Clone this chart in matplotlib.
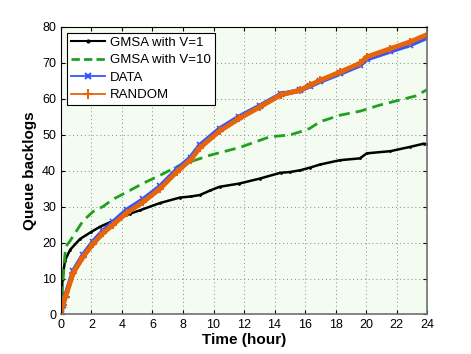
import matplotlib
matplotlib.use("Agg")
import matplotlib.pyplot as plt
from matplotlib.lines import Line2D

plt.rcParams['font.family'] = ['Liberation Sans', 'DejaVu Sans']

# GMSA with V=1
t_v1 = [0, 0.1, 0.26, 0.6, 1.25, 2.0, 2.56, 3.2, 3.87, 4.5, 5.2, 6.5, 7.8, 8.5, 9.1,
        9.8, 10.4, 11.7, 13.05, 14.4, 15.0, 15.7, 16.3, 17.0, 18.3, 19.6, 20.05,
        21.6, 22.9, 23.8, 24]
q_v1 = [0, 10, 15, 18, 21, 23, 24.4, 25.6, 26.8, 28, 29, 31, 32.5, 32.8, 33.2,
        34.5, 35.5, 36.4, 37.8, 39.4, 39.6, 40.1, 40.8, 41.7, 42.9, 43.4, 44.8,
        45.4, 46.6, 47.5, 47.3]

# GMSA with V=10
t_v10 = [0, 0.1, 0.3, 0.6, 0.92, 1.44, 2.1, 2.75, 3.4, 4.3, 5.4, 6.5, 7.1, 7.8,
         9.8, 11.7, 13.7, 15.0, 15.7, 16.3, 17.0, 18.3, 19.6, 20.9, 22.2, 23.3, 24]
q_v10 = [0, 8, 18.8, 20.5, 22.6, 26, 28.6, 30, 32, 34, 36.5, 38.7, 40, 41.5,
         44.3, 46.4, 49.4, 49.9, 50.8, 51.7, 53.6, 55.4, 56.5, 58.2, 59.6, 60.8, 62.5]

# DATA and RANDOM share time points
t_dr = [0, 0.1, 0.3, 0.8, 1.44, 2.1, 2.75, 3.4, 4.3, 5.4, 6.5, 7.6, 8.5, 9.1,
        10.4, 11.7, 13.05, 14.4, 15.7, 16.3, 17.0, 18.3, 19.6, 20.05, 21.6, 22.9, 24]
q_data = [0, 2.5, 5.3, 12, 16.5, 20.2, 23.2, 25.6, 29, 32, 35.6, 40.3, 43.6, 47,
          51.6, 55, 58, 61.2, 62.3, 63.5, 64.8, 67, 69.3, 71, 73.2, 75, 77]
q_rand = [0, 2.5, 5, 11.5, 16, 19.6, 22.6, 24.9, 28.2, 31.3, 35, 39.7, 43.0, 46.3,
          51.0, 54.5, 57.7, 61, 62.4, 63.7, 65.1, 67.4, 69.8, 71.6, 73.9, 75.8, 77.8]

labels = ['GMSA with V=1', 'GMSA with V=10', 'DATA', 'RANDOM']
c_v1, c_v10, c_data, c_rand = 'black', '#1fa01f', '#3355ff', '#e8640a'
green_dash = (0, (4, 2.2))

xticks = list(range(0, 25, 2))
yticks = list(range(0, 81, 10))

fig = plt.figure(figsize=(4.71, 3.54), dpi=100)
ax = fig.add_axes([0.1295, 0.1116, 0.7771, 0.813])
ax.set_facecolor('#f4fbf0')

ax.plot(t_v1, q_v1, color=c_v1, lw=1.8, marker='.', markersize=2)
ax.plot(t_v10, q_v10, color=c_v10, lw=2, ls=green_dash)
ax.plot(t_dr, q_data, color=c_data, lw=3.5, marker='x', markersize=4, mew=1.2)
ax.plot(t_dr, q_rand, color=c_rand, lw=3.5, marker='+', markersize=6, mew=1.5)

ax.set_xlim(0, 24)
ax.set_ylim(0, 80)
ax.set_xticks(xticks)
ax.set_yticks(yticks)
ax.tick_params(direction='in', top=True, right=True, labelsize=9, length=3)
ax.grid(True, ls=(0, (1, 3)), color='#888888', lw=0.7)

for s in ['left', 'top']:
    ax.spines[s].set_color('black')
for s in ['bottom', 'right']:
    ax.spines[s].set_color('#707070')
    ax.spines[s].set_linewidth(1.2)

ax.set_xlabel('Time (hour)', fontsize=11, fontweight='bold', labelpad=1)
ax.set_ylabel('Queue backlogs', fontsize=11, fontweight='bold', labelpad=4)

# legend uses thin lines with a single marker, like the original
handles = [
    Line2D([], [], color=c_v1, lw=1.5, marker='.', markersize=4),
    Line2D([], [], color=c_v10, lw=2, ls=(0, (3, 1.5))),
    Line2D([], [], color=c_data, lw=1.3, marker='x', markersize=5, mew=1.5),
    Line2D([], [], color=c_rand, lw=1.3, marker='+', markersize=7, mew=1.5),
]
leg = ax.legend(handles, labels, loc='upper left', fontsize=9.5, fancybox=False,
                framealpha=1, edgecolor='black', handlelength=2.6, borderpad=0.3,
                labelspacing=0.4, handletextpad=0.35, borderaxespad=0.45,
                numpoints=1)
leg.get_frame().set_linewidth(0.8)

fig.savefig('out.png', dpi=100)
